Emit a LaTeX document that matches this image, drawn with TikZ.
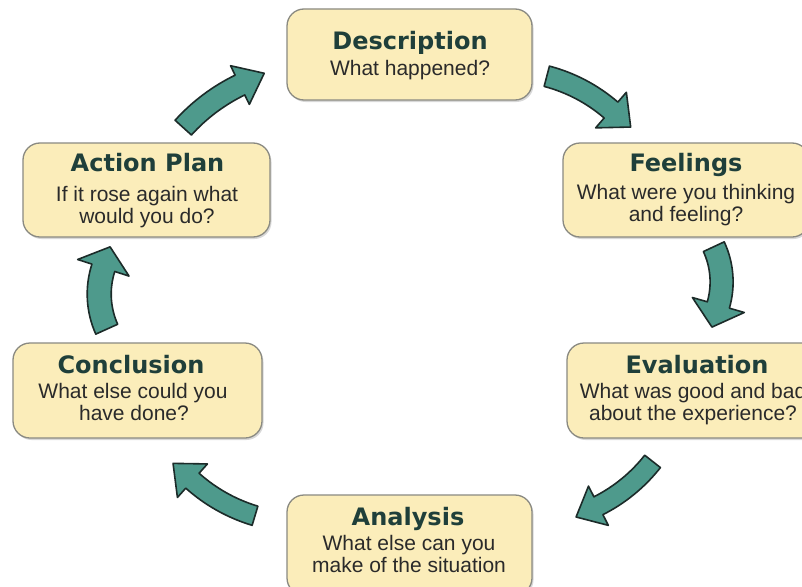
\documentclass[tikz,border=0pt]{standalone}
\usepackage{fontspec}
\setmainfont{Liberation Sans}
\newfontfamily\titlefont{DejaVu Sans}
\usetikzlibrary{calc,shadows}
\definecolor{boxfill}{HTML}{FBEDBA}
\definecolor{boxline}{HTML}{8A8A82}
\definecolor{arrowfill}{HTML}{4E9A8C}
\definecolor{arrowline}{HTML}{1C2B29}
\definecolor{titlecol}{HTML}{1F3F3A}
\definecolor{subcol}{HTML}{2A2A2A}
\tikzset{
  cyclebox/.style={draw=boxline, line width=1.3pt, fill=boxfill, rounded corners=17pt,
    drop shadow={shadow xshift=1.5pt, shadow yshift=-2pt, opacity=0.25, fill=black!60}},
  ttl/.style={anchor=base, inner sep=0pt, text=titlecol, font=\titlefont\bfseries\fontsize{24}{28}\selectfont},
  sub/.style={anchor=base, inner sep=0pt, text=subcol, font=\fontsize{21}{24}\selectfont},
  cyclearrowstyle/.style={fill=arrowfill, draw=arrowline, line width=1.6pt, line join=round}
}
% #1,#2 centre, #3 radius, #4 start angle, #5 end angle, #6 shaft width, #7 head width, #8 head length
\newcommand{\cyclearrow}[8]{%
  \pgfmathsetmacro\arRo{#3+#6/2}\pgfmathsetmacro\arRi{#3-#6/2}%
  \pgfmathsetmacro\arHo{#3+#7/2}\pgfmathsetmacro\arHi{#3-#7/2}%
  \pgfmathsetmacro\arTa{#5+90}%
  \draw[cyclearrowstyle] ($(#1,#2)+(#4:\arRo)$) arc[start angle=#4, end angle=#5, radius=\arRo]
    -- ($(#1,#2)+(#5:\arHo)$) -- ($(#1,#2)+(#5:#3)+(\arTa:#8)$) -- ($(#1,#2)+(#5:\arHi)$)
    -- ($(#1,#2)+(#5:\arRi)$) arc[start angle=#5, end angle=#4, radius=\arRi] -- cycle;}
\begin{document}
\begin{tikzpicture}[x=1pt,y=-1pt]
\useasboundingbox (0,0) rectangle (802,586);
\clip (0,0) rectangle (802,586);
\fill[white] (0,0) rectangle (802,586);

% boxes
\node[cyclebox, minimum width=245pt, minimum height=91pt] (desc) at (409.5,54.5) {};
\node[cyclebox, minimum width=246pt, minimum height=94pt] (feel) at (686,190) {};
\node[cyclebox, minimum width=260pt, minimum height=95pt] (eval) at (697,390.5) {};
\node[cyclebox, minimum width=245pt, minimum height=100pt] (anal) at (409.5,545) {};
\node[cyclebox, minimum width=249pt, minimum height=95pt] (concl) at (137.5,390.5) {};
\node[cyclebox, minimum width=247pt, minimum height=94pt] (act) at (146.5,190) {};

% texts
\node[ttl] (descT) at (410,49) {Description};
\node[sub] (descS) at (410,75) {What happened?};

\node[ttl] (feelT) at (686,171) {Feelings};
\node[sub] (feelS1) at (686,199) {What were you thinking};
\node[sub] (feelS2) at (686,221) {and feeling?};

\node[ttl] (evalT) at (697,373) {Evaluation};
\node[sub] (evalS1) at (693,398) {What was good and bad};
\node[sub] (evalS2) at (693,420) {about the experience?};

\node[ttl] (analT) at (408,525) {Analysis};
\node[sub] (analS1) at (409,550) {What else can you};
\node[sub] (analS2) at (409,572) {make of the situation};

\node[ttl] (conclT) at (131,373) {Conclusion};
\node[sub] (conclS1) at (133,398) {What else could you};
\node[sub] (conclS2) at (134,420) {have done?};

\node[ttl] (actT) at (147.5,171) {Action Plan};
\node[sub] (actS1) at (147,201) {If it rose again what};
\node[sub] (actS2) at (147,223) {would you do?};

% arrows
\cyclearrow{506}{231.7}{160.7}{-75.3}{-49.2}{21}{47}{26}
\cyclearrow{638.3}{281.9}{83.3}{-25}{16.1}{23}{54}{23}
\cyclearrow{525.5}{361.4}{161.7}{38.2}{63.2}{20}{44}{25}
\cyclearrow{302.4}{357.7}{165}{106.7}{131.8}{20}{45}{26}
\cyclearrow{184.8}{294.1}{85.6}{155.8}{197.9}{24}{54}{22}
\cyclearrow{321.1}{252.2}{185.8}{-137.9}{-115.9}{22}{43}{27}
\end{tikzpicture}
\end{document}
